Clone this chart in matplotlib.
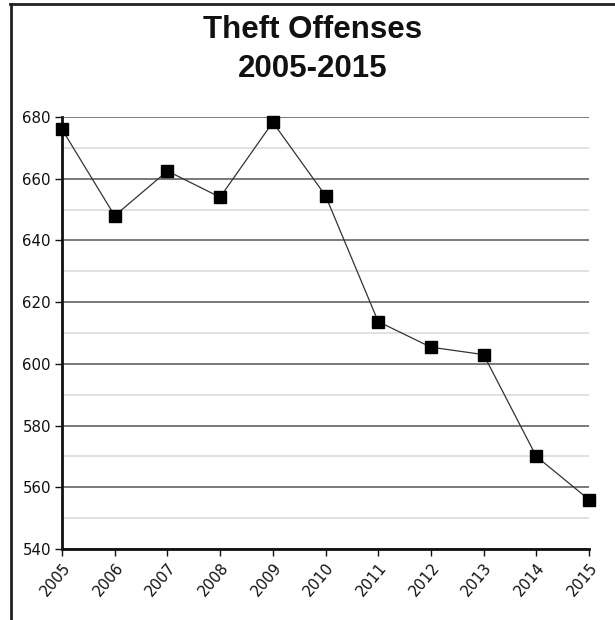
import matplotlib
matplotlib.use("Agg")
import matplotlib.pyplot as plt
from matplotlib.lines import Line2D
from matplotlib.ticker import MultipleLocator

# data
years = [2005, 2006, 2007, 2008, 2009, 2010, 2011, 2012, 2013, 2014, 2015]
offenses = [676, 648, 662.5, 654, 678.3, 654.5, 613.7, 605.4, 603, 570, 556]

W, H = 615, 620
fig = plt.figure(figsize=(W / 100, H / 100), dpi=100)
ax = fig.add_axes([62 / W, 1 - 549 / H, (589 - 62) / W, (549 - 117) / H])

ax.plot(years, offenses, color='#333333', linewidth=0.9, marker='s',
        markersize=8, markerfacecolor='black', markeredgecolor='black',
        clip_on=False, zorder=3)

ax.set_xlim(2005, 2015)
ax.set_ylim(540, 680)
ax.set_xticks(years)
ax.yaxis.set_major_locator(MultipleLocator(20))
ax.yaxis.set_minor_locator(MultipleLocator(10))

ax.grid(which='major', axis='y', color='#707070', linewidth=1.3)
ax.grid(which='minor', axis='y', color='#dedede', linewidth=1.3)
ax.set_axisbelow(True)

for s in ['top', 'right']:
    ax.spines[s].set_visible(False)
for s in ['left', 'bottom']:
    ax.spines[s].set_linewidth(2)
    ax.spines[s].set_color('#111111')

ax.tick_params(axis='both', which='major', length=5, width=1, color='#111111',
               labelsize=10.8, pad=3)
ax.tick_params(axis='y', which='minor', length=0)
for lbl in ax.get_xticklabels() + ax.get_yticklabels():
    lbl.set_family('DejaVu Sans')
    lbl.set_color('#111111')
plt.setp(ax.get_xticklabels(), rotation=50, ha='right', rotation_mode='anchor')

fig.text(313 / W, 1 - 30 / H, 'Theft Offenses', ha='center', va='center',
         fontsize=22.5, fontweight='bold', family='Liberation Sans', color='#111111')
fig.text(313 / W, 1 - 69 / H, '2005-2015', ha='center', va='center',
         fontsize=22.5, fontweight='bold', family='Liberation Sans', color='#111111')

# frame around the picture (top and left edges)
fig.add_artist(Line2D([10 / W, 1], [1 - 4 / H, 1 - 4 / H], color='#222222', linewidth=2))
fig.add_artist(Line2D([11 / W, 11 / W], [0, 1 - 4 / H], color='#222222', linewidth=2))

fig.savefig('out.png', dpi=100)
